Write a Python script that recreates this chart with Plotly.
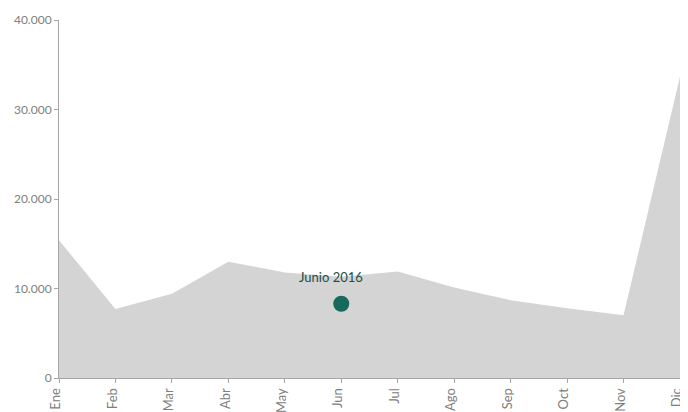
import plotly.graph_objects as go

months = ["Ene", "Feb", "Mar", "Abr", "May", "Jun", "Jul", "Ago", "Sep", "Oct", "Nov", "Dic"]
values = [15400, 7700, 9400, 13000, 11800, 11300, 11900, 10100, 8700, 7800, 7000, 33700]

highlight_month = "Jun"
highlight_value = 8300
highlight_label = "Junio 2016"

AREA_COLOR = "#d4d4d4"
MARK_COLOR = "#17695b"
AXIS_GRAY = "#a6a6a6"
TEXT_GRAY = "#808080"

fig = go.Figure()

fig.add_trace(go.Scatter(
    x=months, y=values,
    mode="lines", fill="tozeroy",
    fillcolor=AREA_COLOR,
    line=dict(width=0, color=AREA_COLOR),
    hoverinfo="skip",
))

fig.add_trace(go.Scatter(
    x=[highlight_month], y=[highlight_value],
    mode="markers",
    marker=dict(size=16, color=MARK_COLOR),
))

fig.add_annotation(
    x=highlight_month, y=highlight_value,
    text=highlight_label, showarrow=False,
    xshift=-10, yshift=27,
    font=dict(size=13, color="#1d4f49", family="Lato"),
)

# the page body adds an 8px offset, so margins are trimmed on the left/top
fig.update_layout(
    width=688, height=412,
    margin=dict(l=51, r=16, t=12, b=42),
    paper_bgcolor="white", plot_bgcolor="white",
    showlegend=False,
    separators=",.",
    font=dict(family="Lato", size=12, color=TEXT_GRAY),
)

fig.update_xaxes(
    type="category", range=[0, 11], automargin=False,
    showgrid=False, showline=True, linecolor=AXIS_GRAY, linewidth=1,
    ticks="outside", ticklen=4, tickcolor=AXIS_GRAY,
    tickangle=-90, ticklabelshift=-3, tickfont=dict(size=13, color=TEXT_GRAY),
)
fig.update_yaxes(
    range=[0, 40000], dtick=10000, tickformat=",d", automargin=False,
    showgrid=False, showline=True, linecolor=AXIS_GRAY, linewidth=1,
    ticks="outside", ticklen=4, tickcolor=AXIS_GRAY,
    zeroline=False, tickfont=dict(size=12, color=TEXT_GRAY),
)

fig.write_html("out.html")
